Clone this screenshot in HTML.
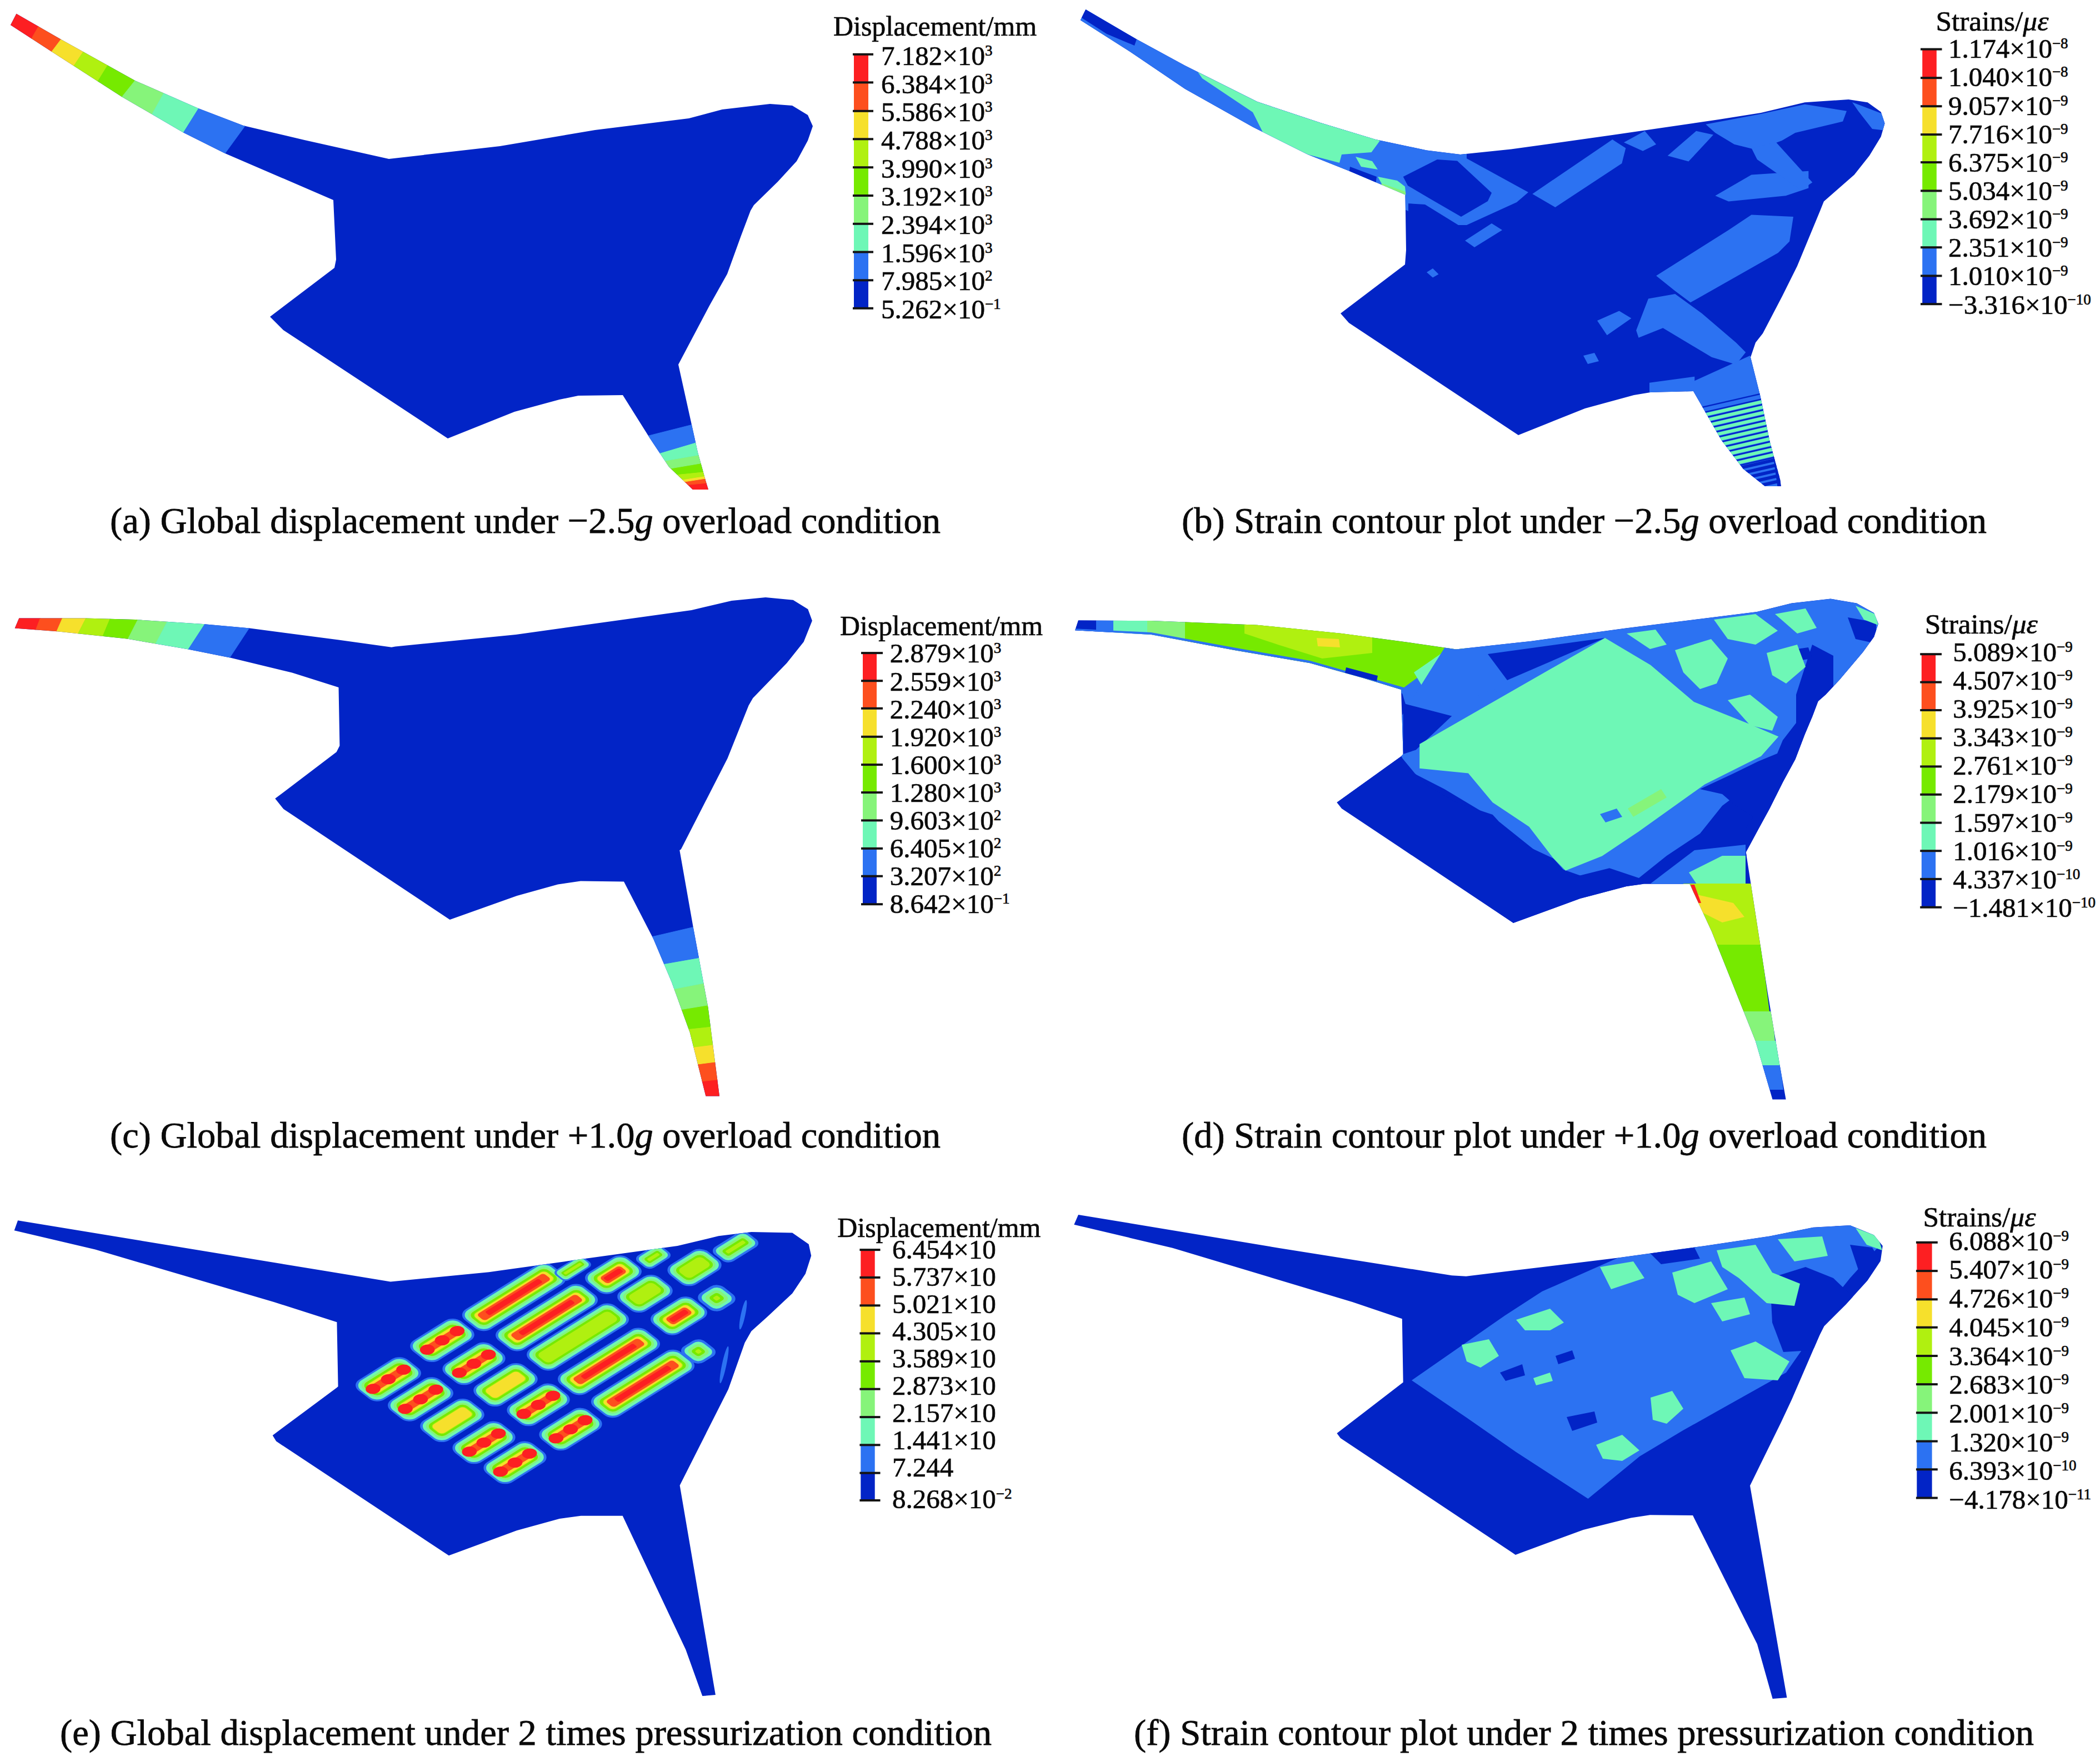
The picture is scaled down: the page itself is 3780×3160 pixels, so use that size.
<!DOCTYPE html>
<html><head><meta charset="utf-8"><style>
html,body{margin:0;padding:0;background:#fff;width:3780px;height:3160px;overflow:hidden}
svg{display:block}
</style></head><body>
<svg width="3780" height="3160" viewBox="0 0 3780 3160">
<defs><clipPath id="clipA"><polygon points="29.5,24.8 110.0,71.0 243.0,145.0 357.0,195.0 438.0,226.0 548.0,252.0 700.0,286.0 900.0,263.0 1071.0,234.0 1240.0,213.0 1300.0,197.0 1386.0,187.0 1426.0,190.0 1454.0,207.0 1463.0,227.0 1454.0,253.0 1434.0,290.0 1400.0,327.0 1357.0,369.0 1351.0,379.0 1334.0,424.0 1309.0,493.0 1277.0,550.0 1221.0,656.0 1256.0,814.0 1271.0,868.0 1275.0,881.0 1247.0,881.0 1204.0,840.0 1170.0,789.0 1121.0,711.0 1041.0,712.0 1007.0,719.0 926.0,741.0 806.0,789.0 510.0,594.0 486.0,570.0 602.0,482.0 605.0,467.0 600.0,360.0 405.0,276.0 329.0,238.0 219.0,174.0 93.0,93.0 19.0,45.0"/></clipPath><clipPath id="clipB"><polygon points="1954.3,17.1 2045.7,70.5 2133.0,118.0 2263.0,183.0 2377.0,221.0 2476.0,251.0 2568.0,270.5 2628.6,278.0 2720.0,268.6 2905.7,242.6 3094.0,215.0 3169.7,203.0 3248.6,184.3 3327.4,179.0 3361.7,184.3 3385.7,201.4 3392.6,222.0 3385.7,246.0 3365.0,280.0 3337.7,314.6 3282.9,362.6 3276.0,379.7 3234.9,479.0 3208.0,533.0 3173.0,600.0 3160.0,616.5 3151.0,643.0 3168.6,713.0 3186.0,796.0 3204.0,862.0 3206.0,875.0 3177.0,875.0 3138.0,844.0 3098.5,792.0 3063.0,730.0 3048.0,704.0 2971.0,706.0 2941.0,711.0 2853.0,735.0 2733.0,783.0 2428.0,581.0 2413.0,564.0 2529.0,476.0 2531.0,450.0 2529.5,350.5 2430.5,308.6 2354.0,278.0 2255.0,228.6 2133.0,160.0 2034.0,93.0 1944.8,36.2"/></clipPath><clipPath id="clipC"><polygon points="34.3,1112.6 152.4,1112.6 243.8,1115.0 365.7,1122.9 449.5,1130.5 609.5,1151.4 704.8,1164.8 711.4,1163.6 928.6,1141.9 1244.8,1098.0 1317.0,1081.0 1378.0,1075.0 1427.6,1079.8 1454.3,1096.2 1461.9,1117.0 1446.7,1155.0 1416.2,1193.3 1355.2,1256.2 1347.6,1269.5 1309.5,1364.8 1225.7,1528.6 1223.3,1530.0 1247.9,1669.3 1274.5,1812.7 1295.0,1972.4 1270.4,1972.4 1241.7,1857.7 1209.0,1767.6 1176.2,1689.8 1123.0,1586.6 1045.1,1585.4 1004.2,1591.5 930.5,1612.0 809.7,1655.0 510.5,1456.0 495.2,1437.1 605.7,1353.3 611.4,1341.9 609.5,1237.0 525.7,1210.5 415.2,1183.8 339.0,1168.6 228.6,1149.5 102.9,1136.2 26.7,1130.5"/></clipPath><clipPath id="clipD"><polygon points="1941.0,1116.4 2072.4,1117.1 2262.9,1124.8 2415.2,1140.0 2529.5,1155.2 2621.0,1168.6 2756.2,1153.7 2928.0,1130.3 3162.3,1101.0 3224.8,1085.4 3295.0,1077.6 3342.0,1085.4 3373.2,1103.0 3381.0,1122.5 3373.2,1146.0 3353.6,1173.2 3310.7,1224.0 3286.2,1250.0 3272.6,1262.0 3262.3,1289.3 3248.6,1321.8 3231.6,1366.2 3209.3,1407.2 3185.4,1455.0 3164.9,1492.6 3142.7,1533.6 3181.7,1785.7 3203.6,1917.1 3214.6,1978.5 3190.5,1978.5 3159.8,1873.3 3124.8,1785.7 3081.0,1676.2 3041.5,1590.8 2958.3,1590.8 2927.6,1595.1 2844.4,1617.0 2724.0,1660.9 2415.0,1455.0 2406.3,1444.0 2522.4,1360.8 2525.7,1357.0 2522.0,1241.0 2453.3,1220.0 2358.0,1193.3 2224.8,1170.5 2072.4,1141.9 1935.2,1134.3"/></clipPath><clipPath id="clipE"><polygon points="32.1,2196.3 702.9,2306.4 880.0,2289.2 1027.6,2268.6 1219.5,2242.0 1293.3,2224.3 1352.4,2216.9 1426.2,2218.4 1455.7,2239.0 1460.2,2259.7 1449.8,2292.2 1426.2,2327.6 1381.9,2369.0 1352.4,2395.5 1340.6,2416.2 1311.0,2500.0 1223.6,2672.9 1287.9,3050.0 1264.3,3052.1 1234.3,2968.6 1120.7,2727.7 1045.7,2727.7 1007.1,2732.9 930.0,2754.3 807.9,2799.3 497.1,2593.6 490.7,2582.9 606.4,2497.1 608.6,2495.0 606.4,2379.3 492.9,2342.9 171.4,2248.6 25.7,2214.3"/></clipPath><clipPath id="clipF"><polygon points="1941.0,2185.9 2301.0,2245.7 2613.3,2295.2 2639.0,2296.7 2912.4,2263.5 3068.6,2242.0 3185.7,2224.4 3263.8,2208.8 3330.2,2204.9 3373.1,2222.5 3388.8,2242.0 3384.9,2269.3 3361.4,2304.5 3322.4,2347.4 3283.3,2386.5 3275.5,2402.1 3224.8,2519.2 3205.7,2560.0 3150.0,2673.6 3216.4,3055.0 3190.7,3057.1 3162.9,2958.6 3047.1,2727.1 2970.0,2726.3 2935.7,2731.4 2850.0,2752.9 2727.9,2797.9 2412.9,2587.9 2406.4,2579.3 2525.7,2487.6 2523.8,2373.3 2434.3,2342.9 2301.0,2302.9 2110.5,2245.7 1933.3,2203.8"/></clipPath></defs>
<polygon points="29.5,24.8 110.0,71.0 243.0,145.0 357.0,195.0 438.0,226.0 548.0,252.0 700.0,286.0 900.0,263.0 1071.0,234.0 1240.0,213.0 1300.0,197.0 1386.0,187.0 1426.0,190.0 1454.0,207.0 1463.0,227.0 1454.0,253.0 1434.0,290.0 1400.0,327.0 1357.0,369.0 1351.0,379.0 1334.0,424.0 1309.0,493.0 1277.0,550.0 1221.0,656.0 1256.0,814.0 1271.0,868.0 1275.0,881.0 1247.0,881.0 1204.0,840.0 1170.0,789.0 1121.0,711.0 1041.0,712.0 1007.0,719.0 926.0,741.0 806.0,789.0 510.0,594.0 486.0,570.0 602.0,482.0 605.0,467.0 600.0,360.0 405.0,276.0 329.0,238.0 219.0,174.0 93.0,93.0 19.0,45.0" fill="#0224c6"/>
<g clip-path="url(#clipA)"><polygon points="18.0,-50.0 76.2,35.4 49.8,81.6 -48.0,60.0" fill="#fd1f22" stroke="#fd1f22" stroke-width="1"/><polygon points="76.2,35.4 118.0,60.0 83.6,105.4 49.8,81.6" fill="#fd4f1e" stroke="#fd4f1e" stroke-width="1"/><polygon points="118.0,60.0 157.4,81.8 125.2,130.2 83.6,105.4" fill="#f6e02c" stroke="#f6e02c" stroke-width="1"/><polygon points="157.4,81.8 202.6,103.4 167.4,160.6 125.2,130.2" fill="#b0f010" stroke="#b0f010" stroke-width="1"/><polygon points="202.6,103.4 257.4,127.0 204.6,193.0 167.4,160.6" fill="#76ea00" stroke="#76ea00" stroke-width="1"/><polygon points="257.4,127.0 306.0,147.4 262.0,226.6 204.6,193.0" fill="#86f47a" stroke="#86f47a" stroke-width="1"/><polygon points="306.0,147.4 373.2,170.2 313.8,264.8 262.0,226.6" fill="#6ef7b6" stroke="#6ef7b6" stroke-width="1"/><polygon points="373.2,170.2 461.0,199.2 384.0,304.8 313.8,264.8" fill="#2c72f2" stroke="#2c72f2" stroke-width="1"/></g>
<g clip-path="url(#clipA)"><polygon points="1210.0,900.0 1225.0,873.8 1291.0,867.2 1320.0,900.0" fill="#fd1f22" stroke="#fd1f22" stroke-width="1"/><polygon points="1225.0,873.8 1218.8,869.0 1289.2,858.0 1291.0,867.2" fill="#fd4f1e" stroke="#fd4f1e" stroke-width="1"/><polygon points="1218.8,869.0 1214.8,865.0 1285.2,854.0 1289.2,858.0" fill="#f6e02c" stroke="#f6e02c" stroke-width="1"/><polygon points="1214.8,865.0 1200.0,855.4 1288.0,846.6 1285.2,854.0" fill="#b0f010" stroke="#b0f010" stroke-width="1"/><polygon points="1200.0,855.4 1184.8,846.8 1288.2,829.2 1288.0,846.6" fill="#76ea00" stroke="#76ea00" stroke-width="1"/><polygon points="1184.8,846.8 1163.2,835.0 1290.8,813.0 1288.2,829.2" fill="#86f47a" stroke="#86f47a" stroke-width="1"/><polygon points="1163.2,835.0 1146.6,827.4 1287.4,785.6 1290.8,813.0" fill="#6ef7b6" stroke="#6ef7b6" stroke-width="1"/><polygon points="1146.6,827.4 1123.0,795.4 1288.0,753.6 1287.4,785.6" fill="#2c72f2" stroke="#2c72f2" stroke-width="1"/></g>
<g style="font-family:'Liberation Serif',serif" fill="#0a0a0a"><text x="1500.0" y="64.0" stroke="#0a0a0a" stroke-width="0.7" style="font-size:50px" textLength="366" lengthAdjust="spacingAndGlyphs">Displacement/mm</text><rect x="1537.0" y="98.0" width="26.0" height="50.6" fill="#fd1f22"/><rect x="1537.0" y="148.6" width="26.0" height="51.4" fill="#fd4f1e"/><rect x="1537.0" y="200.0" width="26.0" height="50.5" fill="#f6e02c"/><rect x="1537.0" y="250.5" width="26.0" height="50.9" fill="#b0f010"/><rect x="1537.0" y="301.4" width="26.0" height="50.8" fill="#76ea00"/><rect x="1537.0" y="352.2" width="26.0" height="50.8" fill="#86f47a"/><rect x="1537.0" y="403.0" width="26.0" height="50.7" fill="#6ef7b6"/><rect x="1537.0" y="453.7" width="26.0" height="50.8" fill="#2c72f2"/><rect x="1537.0" y="504.5" width="26.0" height="50.5" fill="#0224c6"/><rect x="1535.0" y="95.8" width="37.0" height="4" fill="#141414"/><rect x="1535.0" y="146.4" width="37.0" height="4" fill="#141414"/><rect x="1535.0" y="197.8" width="37.0" height="4" fill="#141414"/><rect x="1535.0" y="248.3" width="37.0" height="4" fill="#141414"/><rect x="1535.0" y="299.2" width="37.0" height="4" fill="#141414"/><rect x="1535.0" y="350.0" width="37.0" height="4" fill="#141414"/><rect x="1535.0" y="400.8" width="37.0" height="4" fill="#141414"/><rect x="1535.0" y="451.5" width="37.0" height="4" fill="#141414"/><rect x="1535.0" y="502.3" width="37.0" height="4" fill="#141414"/><rect x="1535.0" y="552.8" width="37.0" height="4" fill="#141414"/><text x="1586.0" y="117.1" stroke="#0a0a0a" stroke-width="0.7" style="font-size:49px">7.182×10<tspan dy="-17" style="font-size:27px">3</tspan></text><text x="1586.0" y="167.7" stroke="#0a0a0a" stroke-width="0.7" style="font-size:49px">6.384×10<tspan dy="-17" style="font-size:27px">3</tspan></text><text x="1586.0" y="218.4" stroke="#0a0a0a" stroke-width="0.7" style="font-size:49px">5.586×10<tspan dy="-17" style="font-size:27px">3</tspan></text><text x="1586.0" y="269.0" stroke="#0a0a0a" stroke-width="0.7" style="font-size:49px">4.788×10<tspan dy="-17" style="font-size:27px">3</tspan></text><text x="1586.0" y="319.7" stroke="#0a0a0a" stroke-width="0.7" style="font-size:49px">3.990×10<tspan dy="-17" style="font-size:27px">3</tspan></text><text x="1586.0" y="370.3" stroke="#0a0a0a" stroke-width="0.7" style="font-size:49px">3.192×10<tspan dy="-17" style="font-size:27px">3</tspan></text><text x="1586.0" y="421.0" stroke="#0a0a0a" stroke-width="0.7" style="font-size:49px">2.394×10<tspan dy="-17" style="font-size:27px">3</tspan></text><text x="1586.0" y="471.6" stroke="#0a0a0a" stroke-width="0.7" style="font-size:49px">1.596×10<tspan dy="-17" style="font-size:27px">3</tspan></text><text x="1586.0" y="522.3" stroke="#0a0a0a" stroke-width="0.7" style="font-size:49px">7.985×10<tspan dy="-17" style="font-size:27px">2</tspan></text><text x="1586.0" y="572.9" stroke="#0a0a0a" stroke-width="0.7" style="font-size:49px">5.262×10<tspan dy="-17" style="font-size:27px">−1</tspan></text></g>
<text x="198.0" y="959.0" style="font-family:'Liberation Serif',serif;font-size:66.5px" fill="#0a0a0a" stroke="#0a0a0a" stroke-width="0.8" textLength="1495" lengthAdjust="spacingAndGlyphs">(a) Global displacement under −2.5<tspan style="font-style:italic">g</tspan> overload condition</text>
<polygon points="1954.3,17.1 2045.7,70.5 2133.0,118.0 2263.0,183.0 2377.0,221.0 2476.0,251.0 2568.0,270.5 2628.6,278.0 2720.0,268.6 2905.7,242.6 3094.0,215.0 3169.7,203.0 3248.6,184.3 3327.4,179.0 3361.7,184.3 3385.7,201.4 3392.6,222.0 3385.7,246.0 3365.0,280.0 3337.7,314.6 3282.9,362.6 3276.0,379.7 3234.9,479.0 3208.0,533.0 3173.0,600.0 3160.0,616.5 3151.0,643.0 3168.6,713.0 3186.0,796.0 3204.0,862.0 3206.0,875.0 3177.0,875.0 3138.0,844.0 3098.5,792.0 3063.0,730.0 3048.0,704.0 2971.0,706.0 2941.0,711.0 2853.0,735.0 2733.0,783.0 2428.0,581.0 2413.0,564.0 2529.0,476.0 2531.0,450.0 2529.5,350.5 2430.5,308.6 2354.0,278.0 2255.0,228.6 2133.0,160.0 2034.0,93.0 1944.8,36.2" fill="#0224c6"/>
<g clip-path="url(#clipB)"><polygon points="1900.0,-20.0 2640.0,250.0 2640.0,290.0 2535.0,335.0 2535.0,380.0 1900.0,80.0" fill="#2c72f2"/><polygon points="1954.0,17.0 2046.0,70.5 2042.0,82.0 1992.0,61.0 1950.0,34.0 1930.0,20.0" fill="#0224c6"/><polygon points="2430.0,300.0 2478.0,318.0 2476.0,332.0 2428.0,314.0" fill="#0224c6"/><polygon points="2156.0,129.5 2263.0,183.0 2377.0,221.0 2484.0,253.0 2468.6,274.0 2415.0,278.0 2411.0,293.0 2354.0,278.0 2274.0,240.0 2255.0,202.0 2164.0,141.0" fill="#6ef7b6"/><polygon points="2480.0,318.0 2515.0,325.0 2532.0,338.0 2532.0,350.0 2490.0,336.0" fill="#6ef7b6"/><polygon points="2440.0,282.0 2470.0,290.0 2480.0,305.0 2450.0,300.0" fill="#6ef7b6"/><polygon points="2487.0,330.0 2530.0,345.0 2530.0,352.0 2485.0,338.0" fill="#86f47a"/><polygon points="2527.0,316.0 2627.0,278.0 2751.0,346.0 2730.0,364.0 2640.0,405.0 2625.0,405.0 2565.0,368.0 2532.0,366.0" fill="#2c72f2"/><polygon points="2525.7,318.0 2587.0,287.0 2623.0,289.6 2685.0,347.0 2678.0,362.0 2630.0,390.0 2573.0,357.0 2534.0,334.0" fill="#0224c6"/><polygon points="2637.0,433.0 2685.0,402.0 2704.0,414.0 2654.0,445.0" fill="#2c72f2"/><polygon points="2758.3,348.9 2902.3,251.1 2926.3,266.6 2919.4,294.0 2799.4,372.9" fill="#2c72f2"/><polygon points="2922.9,256.3 2960.6,235.7 2981.1,259.7 2957.1,271.7" fill="#2c72f2"/><polygon points="3001.7,280.3 3053.1,235.7 3084.0,242.6 3039.4,290.6" fill="#2c72f2"/><polygon points="3070.3,223.7 3169.7,204.9 3248.6,187.7 3324.0,199.7 3317.1,218.6 3231.4,239.1 3207.4,252.9 3162.9,270.0 3121.7,259.7 3087.4,239.1" fill="#2c72f2"/><polygon points="3087.4,352.3 3152.6,314.6 3255.4,307.7 3255.4,338.6 3214.3,352.3 3111.4,362.6" fill="#2c72f2"/><polygon points="2981.1,496.3 3111.4,414.0 3152.6,386.6 3228.0,390.0 3221.1,434.6 3200.6,455.1 3042.9,544.3 3015.4,523.7" fill="#2c72f2"/><polygon points="3152.6,266.6 3197.1,256.3 3262.3,328.3 3241.7,342.0 3162.9,287.1" fill="#2c72f2"/><polygon points="3334.0,184.0 3389.0,205.0 3395.0,235.0 3370.0,232.0 3345.0,200.0" fill="#2c72f2"/><polygon points="2967.0,537.6 3015.2,528.9 3063.4,563.9 3124.8,616.5 3142.3,634.0 3124.8,655.9 3081.0,642.7 2993.3,590.2 2949.5,607.7 2945.1,594.6" fill="#2c72f2"/><polygon points="2875.0,577.0 2914.5,559.5 2936.4,572.7 2892.6,603.3" fill="#2c72f2"/><polygon points="2969.0,688.8 3050.3,677.8 3050.3,704.0 2969.0,706.3" fill="#2c72f2"/><polygon points="2850.0,640.0 2870.0,635.0 2878.0,650.0 2858.0,655.0" fill="#2c72f2"/><polygon points="2568.0,490.0 2579.0,483.0 2589.5,493.6 2579.0,499.5" fill="#2c72f2"/><polygon points="3040.0,690.0 3150.0,640.0 3175.0,700.0 3200.0,880.0 3100.0,880.0 3030.0,720.0" fill="#2c72f2"/></g>
<g clip-path="url(#clipB)"><polygon points="3030.0,739.5 3215.0,697.0 3215.0,699.5 3030.0,742.0" fill="#0224c6"/><polygon points="3030.0,749.5 3215.0,707.0 3215.0,709.5 3030.0,752.0" fill="#0224c6"/><polygon points="3030.0,752.5 3215.0,710.0 3215.0,716.0 3030.0,758.5" fill="#6ef7b6"/><polygon points="3030.0,759.5 3215.0,717.0 3215.0,719.5 3030.0,762.0" fill="#0224c6"/><polygon points="3030.0,762.5 3215.0,720.0 3215.0,726.0 3030.0,768.5" fill="#6ef7b6"/><polygon points="3030.0,769.5 3215.0,727.0 3215.0,729.5 3030.0,772.0" fill="#0224c6"/><polygon points="3030.0,772.5 3215.0,730.0 3215.0,736.0 3030.0,778.5" fill="#6ef7b6"/><polygon points="3030.0,779.5 3215.0,737.0 3215.0,739.5 3030.0,782.0" fill="#0224c6"/><polygon points="3030.0,782.5 3215.0,740.0 3215.0,746.0 3030.0,788.5" fill="#6ef7b6"/><polygon points="3030.0,789.5 3215.0,747.0 3215.0,749.5 3030.0,792.0" fill="#0224c6"/><polygon points="3030.0,792.5 3215.0,750.0 3215.0,756.0 3030.0,798.5" fill="#6ef7b6"/><polygon points="3030.0,799.5 3215.0,757.0 3215.0,759.5 3030.0,802.0" fill="#0224c6"/><polygon points="3030.0,802.5 3215.0,760.0 3215.0,766.0 3030.0,808.5" fill="#6ef7b6"/><polygon points="3030.0,809.5 3215.0,767.0 3215.0,769.5 3030.0,812.0" fill="#0224c6"/><polygon points="3030.0,812.5 3215.0,770.0 3215.0,776.0 3030.0,818.5" fill="#6ef7b6"/><polygon points="3030.0,819.5 3215.0,777.0 3215.0,779.5 3030.0,822.0" fill="#0224c6"/><polygon points="3030.0,822.5 3215.0,780.0 3215.0,786.0 3030.0,828.5" fill="#6ef7b6"/><polygon points="3030.0,829.5 3215.0,787.0 3215.0,789.5 3030.0,832.0" fill="#0224c6"/><polygon points="3030.0,832.5 3215.0,790.0 3215.0,796.0 3030.0,838.5" fill="#6ef7b6"/><polygon points="3030.0,839.5 3215.0,797.0 3215.0,799.5 3030.0,842.0" fill="#0224c6"/><polygon points="3030.0,842.5 3215.0,800.0 3215.0,806.0 3030.0,848.5" fill="#6ef7b6"/><polygon points="3030.0,849.5 3215.0,807.0 3215.0,809.5 3030.0,852.0" fill="#0224c6"/><polygon points="3030.0,852.5 3215.0,810.0 3215.0,816.0 3030.0,858.5" fill="#6ef7b6"/><polygon points="3030.0,859.5 3215.0,817.0 3215.0,819.5 3030.0,862.0" fill="#0224c6"/><polygon points="3030.0,862.5 3215.0,820.0 3215.0,826.0 3030.0,868.5" fill="#0224c6"/><polygon points="3030.0,872.5 3215.0,830.0 3215.0,836.0 3030.0,878.5" fill="#0224c6"/><polygon points="3030.0,882.5 3215.0,840.0 3215.0,846.0 3030.0,888.5" fill="#0224c6"/><polygon points="3030.0,892.5 3215.0,850.0 3215.0,856.0 3030.0,898.5" fill="#0224c6"/><polygon points="3030.0,902.5 3215.0,860.0 3215.0,866.0 3030.0,908.5" fill="#0224c6"/></g>
<g style="font-family:'Liberation Serif',serif" fill="#0a0a0a"><text x="3484.4" y="54.7" stroke="#0a0a0a" stroke-width="0.7" style="font-size:50px" textLength="203" lengthAdjust="spacingAndGlyphs">Strains/<tspan style="font-style:italic">με</tspan></text><rect x="3460.2" y="88.8" width="25.6" height="51.6" fill="#fd1f22"/><rect x="3460.2" y="140.4" width="25.6" height="51.0" fill="#fd4f1e"/><rect x="3460.2" y="191.4" width="25.6" height="50.9" fill="#f6e02c"/><rect x="3460.2" y="242.3" width="25.6" height="50.0" fill="#b0f010"/><rect x="3460.2" y="292.3" width="25.6" height="51.3" fill="#76ea00"/><rect x="3460.2" y="343.6" width="25.6" height="51.2" fill="#86f47a"/><rect x="3460.2" y="394.8" width="25.6" height="50.6" fill="#6ef7b6"/><rect x="3460.2" y="445.4" width="25.6" height="51.2" fill="#2c72f2"/><rect x="3460.2" y="496.6" width="25.6" height="50.8" fill="#0224c6"/><rect x="3457.0" y="86.6" width="38.5" height="4" fill="#141414"/><rect x="3457.0" y="138.2" width="38.5" height="4" fill="#141414"/><rect x="3457.0" y="189.2" width="38.5" height="4" fill="#141414"/><rect x="3457.0" y="240.1" width="38.5" height="4" fill="#141414"/><rect x="3457.0" y="290.1" width="38.5" height="4" fill="#141414"/><rect x="3457.0" y="341.4" width="38.5" height="4" fill="#141414"/><rect x="3457.0" y="392.6" width="38.5" height="4" fill="#141414"/><rect x="3457.0" y="443.2" width="38.5" height="4" fill="#141414"/><rect x="3457.0" y="494.4" width="38.5" height="4" fill="#141414"/><rect x="3457.0" y="545.2" width="38.5" height="4" fill="#141414"/><text x="3507.0" y="104.2" stroke="#0a0a0a" stroke-width="0.7" style="font-size:49px">1.174×10<tspan dy="-17" style="font-size:27px">−8</tspan></text><text x="3507.0" y="155.3" stroke="#0a0a0a" stroke-width="0.7" style="font-size:49px">1.040×10<tspan dy="-17" style="font-size:27px">−8</tspan></text><text x="3507.0" y="206.5" stroke="#0a0a0a" stroke-width="0.7" style="font-size:49px">9.057×10<tspan dy="-17" style="font-size:27px">−9</tspan></text><text x="3507.0" y="257.6" stroke="#0a0a0a" stroke-width="0.7" style="font-size:49px">7.716×10<tspan dy="-17" style="font-size:27px">−9</tspan></text><text x="3507.0" y="308.8" stroke="#0a0a0a" stroke-width="0.7" style="font-size:49px">6.375×10<tspan dy="-17" style="font-size:27px">−9</tspan></text><text x="3507.0" y="359.9" stroke="#0a0a0a" stroke-width="0.7" style="font-size:49px">5.034×10<tspan dy="-17" style="font-size:27px">−9</tspan></text><text x="3507.0" y="411.1" stroke="#0a0a0a" stroke-width="0.7" style="font-size:49px">3.692×10<tspan dy="-17" style="font-size:27px">−9</tspan></text><text x="3507.0" y="462.2" stroke="#0a0a0a" stroke-width="0.7" style="font-size:49px">2.351×10<tspan dy="-17" style="font-size:27px">−9</tspan></text><text x="3507.0" y="513.4" stroke="#0a0a0a" stroke-width="0.7" style="font-size:49px">1.010×10<tspan dy="-17" style="font-size:27px">−9</tspan></text><text x="3507.0" y="564.5" stroke="#0a0a0a" stroke-width="0.7" style="font-size:49px">−3.316×10<tspan dy="-17" style="font-size:27px">−10</tspan></text></g>
<text x="2127.0" y="959.0" style="font-family:'Liberation Serif',serif;font-size:66.5px" fill="#0a0a0a" stroke="#0a0a0a" stroke-width="0.8" textLength="1449" lengthAdjust="spacingAndGlyphs">(b) Strain contour plot under −2.5<tspan style="font-style:italic">g</tspan> overload condition</text>
<polygon points="34.3,1112.6 152.4,1112.6 243.8,1115.0 365.7,1122.9 449.5,1130.5 609.5,1151.4 704.8,1164.8 711.4,1163.6 928.6,1141.9 1244.8,1098.0 1317.0,1081.0 1378.0,1075.0 1427.6,1079.8 1454.3,1096.2 1461.9,1117.0 1446.7,1155.0 1416.2,1193.3 1355.2,1256.2 1347.6,1269.5 1309.5,1364.8 1225.7,1528.6 1223.3,1530.0 1247.9,1669.3 1274.5,1812.7 1295.0,1972.4 1270.4,1972.4 1241.7,1857.7 1209.0,1767.6 1176.2,1689.8 1123.0,1586.6 1045.1,1585.4 1004.2,1591.5 930.5,1612.0 809.7,1655.0 510.5,1456.0 495.2,1437.1 605.7,1353.3 611.4,1341.9 609.5,1237.0 525.7,1210.5 415.2,1183.8 339.0,1168.6 228.6,1149.5 102.9,1136.2 26.7,1130.5" fill="#0224c6"/>
<g clip-path="url(#clipC)"><polygon points="6.0,1032.0 77.4,1099.6 59.0,1147.3 -16.0,1208.0" fill="#fd1f22" stroke="#fd1f22" stroke-width="1"/><polygon points="77.4,1099.6 118.6,1098.4 95.8,1150.4 59.0,1147.3" fill="#fd4f1e" stroke="#fd4f1e" stroke-width="1"/><polygon points="118.6,1098.4 161.9,1098.5 134.1,1152.8 95.8,1150.4" fill="#f6e02c" stroke="#f6e02c" stroke-width="1"/><polygon points="161.9,1098.5 205.5,1096.1 178.0,1161.7 134.1,1152.8" fill="#b0f010" stroke="#b0f010" stroke-width="1"/><polygon points="205.5,1096.1 257.9,1095.9 220.2,1169.6 178.0,1161.7" fill="#76ea00" stroke="#76ea00" stroke-width="1"/><polygon points="257.9,1095.9 312.4,1097.4 270.6,1176.6 220.2,1169.6" fill="#86f47a" stroke="#86f47a" stroke-width="1"/><polygon points="312.4,1097.4 384.8,1098.5 321.8,1194.9 270.6,1176.6" fill="#6ef7b6" stroke="#6ef7b6" stroke-width="1"/><polygon points="384.8,1098.5 468.2,1100.3 392.7,1215.1 321.8,1194.9" fill="#2c72f2" stroke="#2c72f2" stroke-width="1"/></g>
<g clip-path="url(#clipC)"><polygon points="1244.0,1990.0 1248.2,1947.4 1306.9,1941.2 1321.0,1990.0" fill="#fd1f22" stroke="#fd1f22" stroke-width="1"/><polygon points="1248.2,1947.4 1237.6,1917.4 1305.1,1908.6 1306.9,1941.2" fill="#fd4f1e" stroke="#fd4f1e" stroke-width="1"/><polygon points="1237.6,1917.4 1228.1,1886.8 1300.3,1877.7 1305.1,1908.6" fill="#f6e02c" stroke="#f6e02c" stroke-width="1"/><polygon points="1228.1,1886.8 1214.3,1854.1 1299.8,1845.0 1300.3,1877.7" fill="#b0f010" stroke="#b0f010" stroke-width="1"/><polygon points="1214.3,1854.1 1198.2,1821.2 1297.5,1805.0 1299.8,1845.0" fill="#76ea00" stroke="#76ea00" stroke-width="1"/><polygon points="1198.2,1821.2 1179.1,1786.2 1296.1,1763.5 1297.5,1805.0" fill="#86f47a" stroke="#86f47a" stroke-width="1"/><polygon points="1179.1,1786.2 1154.6,1741.6 1294.0,1717.1 1296.1,1763.5" fill="#6ef7b6" stroke="#6ef7b6" stroke-width="1"/><polygon points="1154.6,1741.6 1129.8,1696.0 1292.2,1658.2 1294.0,1717.1" fill="#2c72f2" stroke="#2c72f2" stroke-width="1"/></g>
<g style="font-family:'Liberation Serif',serif" fill="#0a0a0a"><text x="1512.0" y="1143.1" stroke="#0a0a0a" stroke-width="0.7" style="font-size:50px" textLength="365" lengthAdjust="spacingAndGlyphs">Displacement/mm</text><rect x="1553.0" y="1175.3" width="25.0" height="50.1" fill="#fd1f22"/><rect x="1553.0" y="1225.4" width="25.0" height="49.6" fill="#fd4f1e"/><rect x="1553.0" y="1275.0" width="25.0" height="51.0" fill="#f6e02c"/><rect x="1553.0" y="1326.0" width="25.0" height="50.3" fill="#b0f010"/><rect x="1553.0" y="1376.3" width="25.0" height="50.0" fill="#76ea00"/><rect x="1553.0" y="1426.3" width="25.0" height="50.3" fill="#86f47a"/><rect x="1553.0" y="1476.6" width="25.0" height="50.5" fill="#6ef7b6"/><rect x="1553.0" y="1527.1" width="25.0" height="49.8" fill="#2c72f2"/><rect x="1553.0" y="1576.9" width="25.0" height="50.5" fill="#0224c6"/><rect x="1550.0" y="1173.1" width="39.0" height="4" fill="#141414"/><rect x="1550.0" y="1223.2" width="39.0" height="4" fill="#141414"/><rect x="1550.0" y="1272.8" width="39.0" height="4" fill="#141414"/><rect x="1550.0" y="1323.8" width="39.0" height="4" fill="#141414"/><rect x="1550.0" y="1374.1" width="39.0" height="4" fill="#141414"/><rect x="1550.0" y="1424.1" width="39.0" height="4" fill="#141414"/><rect x="1550.0" y="1474.4" width="39.0" height="4" fill="#141414"/><rect x="1550.0" y="1524.9" width="39.0" height="4" fill="#141414"/><rect x="1550.0" y="1574.7" width="39.0" height="4" fill="#141414"/><rect x="1550.0" y="1625.2" width="39.0" height="4" fill="#141414"/><text x="1601.8" y="1192.4" stroke="#0a0a0a" stroke-width="0.7" style="font-size:49px">2.879×10<tspan dy="-17" style="font-size:27px">3</tspan></text><text x="1601.8" y="1242.5" stroke="#0a0a0a" stroke-width="0.7" style="font-size:49px">2.559×10<tspan dy="-17" style="font-size:27px">3</tspan></text><text x="1601.8" y="1292.6" stroke="#0a0a0a" stroke-width="0.7" style="font-size:49px">2.240×10<tspan dy="-17" style="font-size:27px">3</tspan></text><text x="1601.8" y="1342.7" stroke="#0a0a0a" stroke-width="0.7" style="font-size:49px">1.920×10<tspan dy="-17" style="font-size:27px">3</tspan></text><text x="1601.8" y="1392.8" stroke="#0a0a0a" stroke-width="0.7" style="font-size:49px">1.600×10<tspan dy="-17" style="font-size:27px">3</tspan></text><text x="1601.8" y="1442.8" stroke="#0a0a0a" stroke-width="0.7" style="font-size:49px">1.280×10<tspan dy="-17" style="font-size:27px">3</tspan></text><text x="1601.8" y="1492.9" stroke="#0a0a0a" stroke-width="0.7" style="font-size:49px">9.603×10<tspan dy="-17" style="font-size:27px">2</tspan></text><text x="1601.8" y="1543.0" stroke="#0a0a0a" stroke-width="0.7" style="font-size:49px">6.405×10<tspan dy="-17" style="font-size:27px">2</tspan></text><text x="1601.8" y="1593.1" stroke="#0a0a0a" stroke-width="0.7" style="font-size:49px">3.207×10<tspan dy="-17" style="font-size:27px">2</tspan></text><text x="1601.8" y="1643.2" stroke="#0a0a0a" stroke-width="0.7" style="font-size:49px">8.642×10<tspan dy="-17" style="font-size:27px">−1</tspan></text></g>
<text x="198.0" y="2064.8" style="font-family:'Liberation Serif',serif;font-size:66.5px" fill="#0a0a0a" stroke="#0a0a0a" stroke-width="0.8" textLength="1495" lengthAdjust="spacingAndGlyphs">(c) Global displacement under +1.0<tspan style="font-style:italic">g</tspan> overload condition</text>
<polygon points="1941.0,1116.4 2072.4,1117.1 2262.9,1124.8 2415.2,1140.0 2529.5,1155.2 2621.0,1168.6 2756.2,1153.7 2928.0,1130.3 3162.3,1101.0 3224.8,1085.4 3295.0,1077.6 3342.0,1085.4 3373.2,1103.0 3381.0,1122.5 3373.2,1146.0 3353.6,1173.2 3310.7,1224.0 3286.2,1250.0 3272.6,1262.0 3262.3,1289.3 3248.6,1321.8 3231.6,1366.2 3209.3,1407.2 3185.4,1455.0 3164.9,1492.6 3142.7,1533.6 3181.7,1785.7 3203.6,1917.1 3214.6,1978.5 3190.5,1978.5 3159.8,1873.3 3124.8,1785.7 3081.0,1676.2 3041.5,1590.8 2958.3,1590.8 2927.6,1595.1 2844.4,1617.0 2724.0,1660.9 2415.0,1455.0 2406.3,1444.0 2522.4,1360.8 2525.7,1357.0 2522.0,1241.0 2453.3,1220.0 2358.0,1193.3 2224.8,1170.5 2072.4,1141.9 1935.2,1134.3" fill="#0224c6"/>
<g clip-path="url(#clipD)"><polygon points="2133.0,1090.0 2640.0,1150.0 2640.0,1260.0 2133.0,1200.0" fill="#76ea00"/><polygon points="1920.0,1090.0 1973.0,1090.0 1973.0,1160.0 1920.0,1160.0" fill="#0224c6"/><polygon points="1973.0,1090.0 2004.0,1090.0 2004.0,1160.0 1973.0,1160.0" fill="#2c72f2"/><polygon points="2004.0,1090.0 2065.0,1090.0 2065.0,1160.0 2004.0,1160.0" fill="#6ef7b6"/><polygon points="2065.0,1090.0 2133.0,1090.0 2133.0,1165.0 2065.0,1165.0" fill="#86f47a"/><polygon points="2240.0,1110.0 2470.0,1130.0 2470.0,1175.0 2380.0,1185.0 2300.0,1160.0 2240.0,1140.0" fill="#b0f010"/><polygon points="2370.0,1148.0 2410.0,1150.0 2412.0,1165.0 2372.0,1163.0" fill="#f6e02c"/><polygon points="1930.0,1131.0 2072.0,1138.0 2225.0,1166.0 2358.0,1189.0 2453.0,1216.0 2530.0,1238.0 2530.0,1250.0 2453.0,1226.0 2358.0,1198.0 2225.0,1175.0 2072.0,1146.0 1930.0,1140.0" fill="#2c72f2"/><polygon points="2423.0,1201.0 2480.0,1216.0 2478.0,1226.0 2421.0,1211.0" fill="#0224c6"/><polygon points="2522.0,1241.0 2621.0,1168.6 2680.0,1165.0 2760.0,1200.0 2740.0,1260.0 2640.0,1290.0 2540.0,1300.0" fill="#2c72f2"/><polygon points="2545.0,1210.0 2600.0,1172.0 2644.0,1175.0 2630.0,1210.0 2590.0,1231.0 2560.0,1235.0" fill="#6ef7b6"/><polygon points="2600.0,1166.0 2756.0,1153.7 2928.0,1130.3 3162.3,1101.0 3224.8,1085.4 3295.0,1077.6 3342.0,1085.4 3373.2,1103.0 3381.0,1122.5 3373.2,1146.0 3353.6,1173.2 3310.7,1224.0 3272.0,1262.0 3240.0,1300.0 3220.0,1340.0 3190.0,1380.0 3140.0,1420.0 3100.0,1450.0 3060.0,1500.0 3000.0,1540.0 2950.0,1580.0 2900.0,1595.0 2800.0,1560.0 2700.0,1480.0 2600.0,1420.0 2522.0,1380.0 2522.0,1290.0" fill="#2c72f2"/><polygon points="2678.0,1177.0 2889.0,1148.0 2713.0,1224.0" fill="#0224c6"/><polygon points="2525.7,1265.7 2613.3,1288.6 2548.6,1349.5 2525.7,1357.0" fill="#0224c6"/><polygon points="2522.4,1360.8 2406.3,1444.0 2724.0,1660.9 2844.4,1617.0 2958.3,1590.8 2962.7,1584.2 2897.0,1562.3 2826.9,1579.8 2796.2,1544.8 2730.5,1514.1 2686.7,1465.9 2621.0,1444.0 2568.4,1413.3 2546.5,1391.4 2524.6,1365.1" fill="#0224c6"/><polygon points="3233.0,1250.0 3233.0,1301.0 3209.0,1332.0 3199.0,1356.0 3165.0,1370.0 3120.0,1392.0 3060.0,1420.0 3100.0,1429.0 3122.0,1448.0 3156.0,1470.0 3141.0,1493.0 3139.0,1540.0 3300.0,1540.0 3300.0,1180.0 3262.0,1160.0" fill="#0224c6"/><polygon points="3326.0,1111.0 3377.0,1120.0 3377.0,1158.0 3340.0,1150.0" fill="#0224c6"/><polygon points="3220.0,1170.0 3255.0,1165.0 3262.0,1185.0 3228.0,1190.0" fill="#0224c6"/><polygon points="2555.2,1338.9 2889.0,1147.9 2971.0,1196.7 3049.0,1263.0 3146.7,1302.0 3201.3,1325.5 3170.0,1360.7 3068.6,1411.4 2949.5,1496.6 2883.8,1540.4 2818.0,1566.7 2796.2,1544.8 2752.4,1487.8 2686.7,1444.0 2642.9,1391.4 2555.2,1382.7" fill="#6ef7b6"/><polygon points="2660.0,1250.0 2690.0,1240.0 2700.0,1255.0 2670.0,1265.0" fill="#2c72f2"/><polygon points="2880.0,1465.0 2910.0,1455.0 2920.0,1470.0 2890.0,1480.0" fill="#2c72f2"/><polygon points="2930.0,1455.0 2990.0,1420.0 3000.0,1435.0 2940.0,1470.0" fill="#86f47a"/><polygon points="2928.0,1140.0 2980.0,1133.0 3000.0,1160.0 2970.0,1168.0" fill="#6ef7b6"/><polygon points="3015.0,1170.0 3080.0,1150.0 3110.0,1185.0 3090.0,1230.0 3060.0,1240.0 3030.0,1210.0" fill="#6ef7b6"/><polygon points="3085.0,1115.0 3160.0,1105.0 3200.0,1135.0 3160.0,1160.0 3110.0,1150.0" fill="#6ef7b6"/><polygon points="3180.0,1175.0 3235.0,1160.0 3250.0,1200.0 3215.0,1230.0 3190.0,1215.0" fill="#6ef7b6"/><polygon points="3195.0,1105.0 3250.0,1095.0 3270.0,1130.0 3235.0,1140.0" fill="#6ef7b6"/><polygon points="3110.0,1260.0 3150.0,1250.0 3200.0,1290.0 3190.0,1315.0 3150.0,1305.0" fill="#6ef7b6"/><polygon points="3340.0,1090.0 3375.0,1105.0 3381.0,1125.0 3355.0,1115.0" fill="#6ef7b6"/><polygon points="2971.0,1590.0 3050.0,1530.0 3142.0,1520.0 3142.0,1600.0 3040.0,1600.0" fill="#2c72f2"/><polygon points="3040.0,1570.0 3100.0,1540.0 3142.0,1540.0 3142.0,1590.0 3060.0,1600.0" fill="#6ef7b6"/><polygon points="3030.0,1590.0 3160.0,1590.0 3170.0,1700.0 3060.0,1700.0" fill="#b0f010"/><polygon points="3055.0,1610.0 3120.0,1625.0 3140.0,1650.0 3100.0,1660.0 3060.0,1640.0" fill="#f6e02c"/><polygon points="3060.0,1700.0 3170.0,1700.0 3185.0,1820.0 3100.0,1820.0" fill="#76ea00"/><polygon points="3100.0,1820.0 3190.0,1820.0 3195.0,1873.0 3120.0,1873.0" fill="#86f47a"/><polygon points="3120.0,1873.0 3200.0,1873.0 3205.0,1917.0 3140.0,1917.0" fill="#6ef7b6"/><polygon points="3140.0,1917.0 3205.0,1917.0 3210.0,1961.0 3150.0,1961.0" fill="#2c72f2"/><polygon points="3043.0,1592.0 3050.0,1592.0 3062.0,1625.0 3055.0,1625.0" fill="#fd1f22"/></g>
<g style="font-family:'Liberation Serif',serif" fill="#0a0a0a"><text x="3464.8" y="1139.8" stroke="#0a0a0a" stroke-width="0.7" style="font-size:50px" textLength="203" lengthAdjust="spacingAndGlyphs">Strains/<tspan style="font-style:italic">με</tspan></text><rect x="3458.8" y="1177.4" width="25.3" height="50.4" fill="#fd1f22"/><rect x="3458.8" y="1227.8" width="25.3" height="50.4" fill="#fd4f1e"/><rect x="3458.8" y="1278.2" width="25.3" height="50.7" fill="#f6e02c"/><rect x="3458.8" y="1328.9" width="25.3" height="50.7" fill="#b0f010"/><rect x="3458.8" y="1379.6" width="25.3" height="50.4" fill="#76ea00"/><rect x="3458.8" y="1430.0" width="25.3" height="50.8" fill="#86f47a"/><rect x="3458.8" y="1480.8" width="25.3" height="50.6" fill="#6ef7b6"/><rect x="3458.8" y="1531.4" width="25.3" height="50.7" fill="#2c72f2"/><rect x="3458.8" y="1582.1" width="25.3" height="50.8" fill="#0224c6"/><rect x="3456.2" y="1175.2" width="38.8" height="4" fill="#141414"/><rect x="3456.2" y="1225.6" width="38.8" height="4" fill="#141414"/><rect x="3456.2" y="1276.0" width="38.8" height="4" fill="#141414"/><rect x="3456.2" y="1326.7" width="38.8" height="4" fill="#141414"/><rect x="3456.2" y="1377.4" width="38.8" height="4" fill="#141414"/><rect x="3456.2" y="1427.8" width="38.8" height="4" fill="#141414"/><rect x="3456.2" y="1478.6" width="38.8" height="4" fill="#141414"/><rect x="3456.2" y="1529.2" width="38.8" height="4" fill="#141414"/><rect x="3456.2" y="1579.9" width="38.8" height="4" fill="#141414"/><rect x="3456.2" y="1630.7" width="38.8" height="4" fill="#141414"/><text x="3515.2" y="1190.2" stroke="#0a0a0a" stroke-width="0.7" style="font-size:49px">5.089×10<tspan dy="-17" style="font-size:27px">−9</tspan></text><text x="3515.2" y="1241.2" stroke="#0a0a0a" stroke-width="0.7" style="font-size:49px">4.507×10<tspan dy="-17" style="font-size:27px">−9</tspan></text><text x="3515.2" y="1292.3" stroke="#0a0a0a" stroke-width="0.7" style="font-size:49px">3.925×10<tspan dy="-17" style="font-size:27px">−9</tspan></text><text x="3515.2" y="1343.3" stroke="#0a0a0a" stroke-width="0.7" style="font-size:49px">3.343×10<tspan dy="-17" style="font-size:27px">−9</tspan></text><text x="3515.2" y="1394.4" stroke="#0a0a0a" stroke-width="0.7" style="font-size:49px">2.761×10<tspan dy="-17" style="font-size:27px">−9</tspan></text><text x="3515.2" y="1445.4" stroke="#0a0a0a" stroke-width="0.7" style="font-size:49px">2.179×10<tspan dy="-17" style="font-size:27px">−9</tspan></text><text x="3515.2" y="1496.5" stroke="#0a0a0a" stroke-width="0.7" style="font-size:49px">1.597×10<tspan dy="-17" style="font-size:27px">−9</tspan></text><text x="3515.2" y="1547.5" stroke="#0a0a0a" stroke-width="0.7" style="font-size:49px">1.016×10<tspan dy="-17" style="font-size:27px">−9</tspan></text><text x="3515.2" y="1598.6" stroke="#0a0a0a" stroke-width="0.7" style="font-size:49px">4.337×10<tspan dy="-17" style="font-size:27px">−10</tspan></text><text x="3515.2" y="1649.6" stroke="#0a0a0a" stroke-width="0.7" style="font-size:49px">−1.481×10<tspan dy="-17" style="font-size:27px">−10</tspan></text></g>
<text x="2127.0" y="2064.8" style="font-family:'Liberation Serif',serif;font-size:66.5px" fill="#0a0a0a" stroke="#0a0a0a" stroke-width="0.8" textLength="1449" lengthAdjust="spacingAndGlyphs">(d) Strain contour plot under +1.0<tspan style="font-style:italic">g</tspan> overload condition</text>
<polygon points="32.1,2196.3 702.9,2306.4 880.0,2289.2 1027.6,2268.6 1219.5,2242.0 1293.3,2224.3 1352.4,2216.9 1426.2,2218.4 1455.7,2239.0 1460.2,2259.7 1449.8,2292.2 1426.2,2327.6 1381.9,2369.0 1352.4,2395.5 1340.6,2416.2 1311.0,2500.0 1223.6,2672.9 1287.9,3050.0 1264.3,3052.1 1234.3,2968.6 1120.7,2727.7 1045.7,2727.7 1007.1,2732.9 930.0,2754.3 807.9,2799.3 497.1,2593.6 490.7,2582.9 606.4,2497.1 608.6,2495.0 606.4,2379.3 492.9,2342.9 171.4,2248.6 25.7,2214.3" fill="#0224c6"/>
<g clip-path="url(#clipE)"><g transform="matrix(0.8480,-0.5299,0.7880,0.6157,699.0,2482.0)"><rect x="-52.3" y="-29.0" width="104.7" height="58.0" rx="17.4" fill="#2c72f2"/><rect x="-48.9" y="-25.5" width="97.7" height="51.0" rx="15.3" fill="#6ef7b6"/><rect x="-44.5" y="-21.2" width="89.0" height="42.3" rx="12.7" fill="#86f47a"/><rect x="-40.7" y="-17.4" width="81.5" height="34.8" rx="10.4" fill="#76ea00"/><rect x="-36.7" y="-13.3" width="73.4" height="26.7" rx="8.0" fill="#b0f010"/><rect x="-35.5" y="-12.2" width="71.0" height="24.4" rx="7.3" fill="#f6e02c"/><rect x="-28.9" y="-7.5" width="57.8" height="15.1" rx="4.5" fill="#fd4f1e"/><ellipse cx="-32.4" cy="0" rx="12" ry="11" fill="#fd1f22"/><ellipse cx="0.0" cy="0" rx="12" ry="11" fill="#fd1f22"/><ellipse cx="32.4" cy="0" rx="12" ry="11" fill="#fd1f22"/></g><g transform="matrix(0.8480,-0.5299,0.7880,0.6157,796.0,2412.0)"><rect x="-51.0" y="-29.0" width="102.0" height="58.0" rx="17.4" fill="#2c72f2"/><rect x="-47.5" y="-25.5" width="95.0" height="51.0" rx="15.3" fill="#6ef7b6"/><rect x="-43.2" y="-21.2" width="86.3" height="42.3" rx="12.7" fill="#86f47a"/><rect x="-39.4" y="-17.4" width="78.8" height="34.8" rx="10.4" fill="#76ea00"/><rect x="-35.3" y="-13.3" width="70.7" height="26.7" rx="8.0" fill="#b0f010"/><rect x="-34.2" y="-12.2" width="68.3" height="24.4" rx="7.3" fill="#f6e02c"/><rect x="-27.5" y="-7.5" width="55.1" height="15.1" rx="4.5" fill="#fd4f1e"/><ellipse cx="-31.6" cy="0" rx="12" ry="11" fill="#fd1f22"/><ellipse cx="0.0" cy="0" rx="12" ry="11" fill="#fd1f22"/><ellipse cx="31.6" cy="0" rx="12" ry="11" fill="#fd1f22"/></g><g transform="matrix(0.8480,-0.5299,0.7880,0.6157,925.0,2334.0)"><rect x="-92.7" y="-29.0" width="185.4" height="58.0" rx="17.4" fill="#2c72f2"/><rect x="-89.2" y="-25.5" width="178.4" height="51.0" rx="15.3" fill="#6ef7b6"/><rect x="-84.8" y="-21.2" width="169.7" height="42.3" rx="12.7" fill="#86f47a"/><rect x="-81.1" y="-17.4" width="162.2" height="34.8" rx="10.4" fill="#76ea00"/><rect x="-77.0" y="-13.3" width="154.0" height="26.7" rx="8.0" fill="#b0f010"/><rect x="-75.9" y="-12.2" width="151.7" height="24.4" rx="7.3" fill="#f6e02c"/><rect x="-71.0" y="-9.3" width="141.9" height="18.6" rx="5.6" fill="#fd4f1e"/><rect x="-56.8" y="-5.2" width="113.5" height="10.4" rx="3.1" fill="#fd1f22"/></g><g transform="matrix(0.8480,-0.5299,0.7880,0.6157,1104.0,2294.0)"><rect x="-42.9" y="-29.0" width="85.8" height="58.0" rx="17.4" fill="#2c72f2"/><rect x="-39.4" y="-25.5" width="78.9" height="51.0" rx="15.3" fill="#6ef7b6"/><rect x="-35.1" y="-21.2" width="70.2" height="42.3" rx="12.7" fill="#86f47a"/><rect x="-31.3" y="-17.4" width="62.6" height="34.8" rx="10.4" fill="#76ea00"/><rect x="-27.3" y="-13.3" width="54.5" height="26.7" rx="8.0" fill="#b0f010"/><rect x="-26.1" y="-12.2" width="52.2" height="24.4" rx="7.3" fill="#f6e02c"/><rect x="-21.2" y="-9.3" width="42.4" height="18.6" rx="5.6" fill="#fd4f1e"/><rect x="-17.0" y="-5.2" width="33.9" height="10.4" rx="3.1" fill="#fd1f22"/></g><g transform="matrix(0.8480,-0.5299,0.7880,0.6157,1250.0,2281.0)"><rect x="-40.2" y="-29.0" width="80.5" height="58.0" rx="17.4" fill="#2c72f2"/><rect x="-36.8" y="-25.5" width="73.5" height="51.0" rx="15.3" fill="#6ef7b6"/><rect x="-32.4" y="-21.2" width="64.8" height="42.3" rx="12.7" fill="#86f47a"/><rect x="-28.6" y="-17.4" width="57.3" height="34.8" rx="10.4" fill="#76ea00"/><rect x="-24.6" y="-13.3" width="49.1" height="26.7" rx="8.0" fill="#b0f010"/></g><g transform="matrix(0.8480,-0.5299,0.7880,0.6157,757.0,2518.0)"><rect x="-52.3" y="-29.0" width="104.7" height="58.0" rx="17.4" fill="#2c72f2"/><rect x="-48.9" y="-25.5" width="97.7" height="51.0" rx="15.3" fill="#6ef7b6"/><rect x="-44.5" y="-21.2" width="89.0" height="42.3" rx="12.7" fill="#86f47a"/><rect x="-40.7" y="-17.4" width="81.5" height="34.8" rx="10.4" fill="#76ea00"/><rect x="-36.7" y="-13.3" width="73.4" height="26.7" rx="8.0" fill="#b0f010"/><rect x="-35.5" y="-12.2" width="71.0" height="24.4" rx="7.3" fill="#f6e02c"/><rect x="-28.9" y="-7.5" width="57.8" height="15.1" rx="4.5" fill="#fd4f1e"/><ellipse cx="-32.4" cy="0" rx="12" ry="11" fill="#fd1f22"/><ellipse cx="0.0" cy="0" rx="12" ry="11" fill="#fd1f22"/><ellipse cx="32.4" cy="0" rx="12" ry="11" fill="#fd1f22"/></g><g transform="matrix(0.8480,-0.5299,0.7880,0.6157,853.0,2454.0)"><rect x="-49.6" y="-29.0" width="99.3" height="58.0" rx="17.4" fill="#2c72f2"/><rect x="-46.2" y="-25.5" width="92.3" height="51.0" rx="15.3" fill="#6ef7b6"/><rect x="-41.8" y="-21.2" width="83.6" height="42.3" rx="12.7" fill="#86f47a"/><rect x="-38.0" y="-17.4" width="76.1" height="34.8" rx="10.4" fill="#76ea00"/><rect x="-34.0" y="-13.3" width="68.0" height="26.7" rx="8.0" fill="#b0f010"/><rect x="-32.8" y="-12.2" width="65.7" height="24.4" rx="7.3" fill="#f6e02c"/><rect x="-26.2" y="-7.5" width="52.4" height="15.1" rx="4.5" fill="#fd4f1e"/><ellipse cx="-30.8" cy="0" rx="12" ry="11" fill="#fd1f22"/><ellipse cx="0.0" cy="0" rx="12" ry="11" fill="#fd1f22"/><ellipse cx="30.8" cy="0" rx="12" ry="11" fill="#fd1f22"/></g><g transform="matrix(0.8480,-0.5299,0.7880,0.6157,984.0,2371.0)"><rect x="-91.3" y="-29.0" width="182.7" height="58.0" rx="17.4" fill="#2c72f2"/><rect x="-87.9" y="-25.5" width="175.7" height="51.0" rx="15.3" fill="#6ef7b6"/><rect x="-83.5" y="-21.2" width="167.0" height="42.3" rx="12.7" fill="#86f47a"/><rect x="-79.7" y="-17.4" width="159.5" height="34.8" rx="10.4" fill="#76ea00"/><rect x="-75.7" y="-13.3" width="151.3" height="26.7" rx="8.0" fill="#b0f010"/><rect x="-74.5" y="-12.2" width="149.0" height="24.4" rx="7.3" fill="#f6e02c"/><rect x="-69.6" y="-9.3" width="139.2" height="18.6" rx="5.6" fill="#fd4f1e"/><rect x="-55.7" y="-5.2" width="111.4" height="10.4" rx="3.1" fill="#fd1f22"/></g><g transform="matrix(0.8480,-0.5299,0.7880,0.6157,1161.0,2328.0)"><rect x="-41.6" y="-29.0" width="83.2" height="58.0" rx="17.4" fill="#2c72f2"/><rect x="-38.1" y="-25.5" width="76.2" height="51.0" rx="15.3" fill="#6ef7b6"/><rect x="-33.7" y="-21.2" width="67.5" height="42.3" rx="12.7" fill="#86f47a"/><rect x="-30.0" y="-17.4" width="60.0" height="34.8" rx="10.4" fill="#76ea00"/><rect x="-25.9" y="-13.3" width="51.8" height="26.7" rx="8.0" fill="#b0f010"/></g><g transform="matrix(0.8480,-0.5299,0.7880,0.6157,814.0,2556.0)"><rect x="-51.0" y="-29.0" width="102.0" height="58.0" rx="17.4" fill="#2c72f2"/><rect x="-47.5" y="-25.5" width="95.0" height="51.0" rx="15.3" fill="#6ef7b6"/><rect x="-43.2" y="-21.2" width="86.3" height="42.3" rx="12.7" fill="#86f47a"/><rect x="-39.4" y="-17.4" width="78.8" height="34.8" rx="10.4" fill="#76ea00"/><rect x="-35.3" y="-13.3" width="70.7" height="26.7" rx="8.0" fill="#b0f010"/><rect x="-34.2" y="-12.2" width="68.3" height="24.4" rx="7.3" fill="#f6e02c"/></g><g transform="matrix(0.8480,-0.5299,0.7880,0.6157,910.0,2492.0)"><rect x="-51.0" y="-29.0" width="102.0" height="58.0" rx="17.4" fill="#2c72f2"/><rect x="-47.5" y="-25.5" width="95.0" height="51.0" rx="15.3" fill="#6ef7b6"/><rect x="-43.2" y="-21.2" width="86.3" height="42.3" rx="12.7" fill="#86f47a"/><rect x="-39.4" y="-17.4" width="78.8" height="34.8" rx="10.4" fill="#76ea00"/><rect x="-35.3" y="-13.3" width="70.7" height="26.7" rx="8.0" fill="#b0f010"/><rect x="-34.2" y="-12.2" width="68.3" height="24.4" rx="7.3" fill="#f6e02c"/></g><g transform="matrix(0.8480,-0.5299,0.7880,0.6157,1040.0,2406.0)"><rect x="-91.3" y="-29.0" width="182.7" height="58.0" rx="17.4" fill="#2c72f2"/><rect x="-87.9" y="-25.5" width="175.7" height="51.0" rx="15.3" fill="#6ef7b6"/><rect x="-83.5" y="-21.2" width="167.0" height="42.3" rx="12.7" fill="#86f47a"/><rect x="-79.7" y="-17.4" width="159.5" height="34.8" rx="10.4" fill="#76ea00"/><rect x="-75.7" y="-13.3" width="151.3" height="26.7" rx="8.0" fill="#b0f010"/></g><g transform="matrix(0.8480,-0.5299,0.7880,0.6157,1222.0,2368.0)"><rect x="-42.9" y="-29.0" width="85.8" height="58.0" rx="17.4" fill="#2c72f2"/><rect x="-39.4" y="-25.5" width="78.9" height="51.0" rx="15.3" fill="#6ef7b6"/><rect x="-35.1" y="-21.2" width="70.2" height="42.3" rx="12.7" fill="#86f47a"/><rect x="-31.3" y="-17.4" width="62.6" height="34.8" rx="10.4" fill="#76ea00"/><rect x="-27.3" y="-13.3" width="54.5" height="26.7" rx="8.0" fill="#b0f010"/><rect x="-26.1" y="-12.2" width="52.2" height="24.4" rx="7.3" fill="#f6e02c"/><rect x="-21.2" y="-9.3" width="42.4" height="18.6" rx="5.6" fill="#fd4f1e"/><rect x="-17.0" y="-5.2" width="33.9" height="10.4" rx="3.1" fill="#fd1f22"/></g><g transform="matrix(0.8480,-0.5299,0.7880,0.6157,871.0,2596.0)"><rect x="-49.6" y="-29.0" width="99.3" height="58.0" rx="17.4" fill="#2c72f2"/><rect x="-46.2" y="-25.5" width="92.3" height="51.0" rx="15.3" fill="#6ef7b6"/><rect x="-41.8" y="-21.2" width="83.6" height="42.3" rx="12.7" fill="#86f47a"/><rect x="-38.0" y="-17.4" width="76.1" height="34.8" rx="10.4" fill="#76ea00"/><rect x="-34.0" y="-13.3" width="68.0" height="26.7" rx="8.0" fill="#b0f010"/><rect x="-32.8" y="-12.2" width="65.7" height="24.4" rx="7.3" fill="#f6e02c"/><rect x="-26.2" y="-7.5" width="52.4" height="15.1" rx="4.5" fill="#fd4f1e"/><ellipse cx="-30.8" cy="0" rx="12" ry="11" fill="#fd1f22"/><ellipse cx="0.0" cy="0" rx="12" ry="11" fill="#fd1f22"/><ellipse cx="30.8" cy="0" rx="12" ry="11" fill="#fd1f22"/></g><g transform="matrix(0.8480,-0.5299,0.7880,0.6157,969.0,2528.0)"><rect x="-49.6" y="-29.0" width="99.3" height="58.0" rx="17.4" fill="#2c72f2"/><rect x="-46.2" y="-25.5" width="92.3" height="51.0" rx="15.3" fill="#6ef7b6"/><rect x="-41.8" y="-21.2" width="83.6" height="42.3" rx="12.7" fill="#86f47a"/><rect x="-38.0" y="-17.4" width="76.1" height="34.8" rx="10.4" fill="#76ea00"/><rect x="-34.0" y="-13.3" width="68.0" height="26.7" rx="8.0" fill="#b0f010"/><rect x="-32.8" y="-12.2" width="65.7" height="24.4" rx="7.3" fill="#f6e02c"/><rect x="-26.2" y="-7.5" width="52.4" height="15.1" rx="4.5" fill="#fd4f1e"/><ellipse cx="-30.8" cy="0" rx="12" ry="11" fill="#fd1f22"/><ellipse cx="0.0" cy="0" rx="12" ry="11" fill="#fd1f22"/><ellipse cx="30.8" cy="0" rx="12" ry="11" fill="#fd1f22"/></g><g transform="matrix(0.8480,-0.5299,0.7880,0.6157,1096.0,2450.0)"><rect x="-91.3" y="-29.0" width="182.7" height="58.0" rx="17.4" fill="#2c72f2"/><rect x="-87.9" y="-25.5" width="175.7" height="51.0" rx="15.3" fill="#6ef7b6"/><rect x="-83.5" y="-21.2" width="167.0" height="42.3" rx="12.7" fill="#86f47a"/><rect x="-79.7" y="-17.4" width="159.5" height="34.8" rx="10.4" fill="#76ea00"/><rect x="-75.7" y="-13.3" width="151.3" height="26.7" rx="8.0" fill="#b0f010"/><rect x="-74.5" y="-12.2" width="149.0" height="24.4" rx="7.3" fill="#f6e02c"/><rect x="-69.6" y="-9.3" width="139.2" height="18.6" rx="5.6" fill="#fd4f1e"/><rect x="-55.7" y="-5.2" width="111.4" height="10.4" rx="3.1" fill="#fd1f22"/></g><g transform="matrix(0.8480,-0.5299,0.7880,0.6157,927.0,2632.0)"><rect x="-49.6" y="-29.0" width="99.3" height="58.0" rx="17.4" fill="#2c72f2"/><rect x="-46.2" y="-25.5" width="92.3" height="51.0" rx="15.3" fill="#6ef7b6"/><rect x="-41.8" y="-21.2" width="83.6" height="42.3" rx="12.7" fill="#86f47a"/><rect x="-38.0" y="-17.4" width="76.1" height="34.8" rx="10.4" fill="#76ea00"/><rect x="-34.0" y="-13.3" width="68.0" height="26.7" rx="8.0" fill="#b0f010"/><rect x="-32.8" y="-12.2" width="65.7" height="24.4" rx="7.3" fill="#f6e02c"/><rect x="-26.2" y="-7.5" width="52.4" height="15.1" rx="4.5" fill="#fd4f1e"/><ellipse cx="-30.8" cy="0" rx="12" ry="11" fill="#fd1f22"/><ellipse cx="0.0" cy="0" rx="12" ry="11" fill="#fd1f22"/><ellipse cx="30.8" cy="0" rx="12" ry="11" fill="#fd1f22"/></g><g transform="matrix(0.8480,-0.5299,0.7880,0.6157,1027.0,2572.0)"><rect x="-49.6" y="-29.0" width="99.3" height="58.0" rx="17.4" fill="#2c72f2"/><rect x="-46.2" y="-25.5" width="92.3" height="51.0" rx="15.3" fill="#6ef7b6"/><rect x="-41.8" y="-21.2" width="83.6" height="42.3" rx="12.7" fill="#86f47a"/><rect x="-38.0" y="-17.4" width="76.1" height="34.8" rx="10.4" fill="#76ea00"/><rect x="-34.0" y="-13.3" width="68.0" height="26.7" rx="8.0" fill="#b0f010"/><rect x="-32.8" y="-12.2" width="65.7" height="24.4" rx="7.3" fill="#f6e02c"/><rect x="-26.2" y="-7.5" width="52.4" height="15.1" rx="4.5" fill="#fd4f1e"/><ellipse cx="-30.8" cy="0" rx="12" ry="11" fill="#fd1f22"/><ellipse cx="0.0" cy="0" rx="12" ry="11" fill="#fd1f22"/><ellipse cx="30.8" cy="0" rx="12" ry="11" fill="#fd1f22"/></g><g transform="matrix(0.8480,-0.5299,0.7880,0.6157,1157.0,2490.0)"><rect x="-92.7" y="-29.0" width="185.4" height="58.0" rx="17.4" fill="#2c72f2"/><rect x="-89.2" y="-25.5" width="178.4" height="51.0" rx="15.3" fill="#6ef7b6"/><rect x="-84.8" y="-21.2" width="169.7" height="42.3" rx="12.7" fill="#86f47a"/><rect x="-81.1" y="-17.4" width="162.2" height="34.8" rx="10.4" fill="#76ea00"/><rect x="-77.0" y="-13.3" width="154.0" height="26.7" rx="8.0" fill="#b0f010"/><rect x="-75.9" y="-12.2" width="151.7" height="24.4" rx="7.3" fill="#f6e02c"/><rect x="-71.0" y="-9.3" width="141.9" height="18.6" rx="5.6" fill="#fd4f1e"/><rect x="-56.8" y="-5.2" width="113.5" height="10.4" rx="3.1" fill="#fd1f22"/></g><g transform="matrix(0.8480,-0.5299,0.7880,0.6157,1176.0,2262.0)"><rect x="-26.0" y="-18.0" width="52.0" height="36.0" rx="10.8" fill="#2c72f2"/><rect x="-22.4" y="-14.4" width="44.8" height="28.8" rx="8.6" fill="#6ef7b6"/><rect x="-18.8" y="-10.8" width="37.6" height="21.6" rx="6.5" fill="#86f47a"/><rect x="-14.8" y="-6.8" width="29.7" height="13.7" rx="4.1" fill="#76ea00"/><rect x="-11.2" y="-3.2" width="22.5" height="6.5" rx="1.9" fill="#b0f010"/></g><g transform="matrix(0.8480,-0.5299,0.7880,0.6157,1031.0,2283.0)"><rect x="-30.0" y="-15.0" width="60.0" height="30.0" rx="9.0" fill="#2c72f2"/><rect x="-27.0" y="-12.0" width="54.0" height="24.0" rx="7.2" fill="#6ef7b6"/><rect x="-24.0" y="-9.0" width="48.0" height="18.0" rx="5.4" fill="#86f47a"/><rect x="-20.7" y="-5.7" width="41.4" height="11.4" rx="3.4" fill="#76ea00"/><rect x="-17.7" y="-2.7" width="35.4" height="5.4" rx="1.6" fill="#b0f010"/></g><g transform="matrix(0.8480,-0.5299,0.7880,0.6157,1290.0,2336.0)"><rect x="-25.0" y="-25.0" width="50.0" height="50.0" rx="15.0" fill="#2c72f2"/><rect x="-20.0" y="-20.0" width="40.0" height="40.0" rx="12.0" fill="#6ef7b6"/><rect x="-15.0" y="-15.0" width="30.0" height="30.0" rx="9.0" fill="#86f47a"/><rect x="-9.5" y="-9.5" width="19.0" height="19.0" rx="5.7" fill="#76ea00"/><rect x="-4.5" y="-4.5" width="9.0" height="9.0" rx="2.7" fill="#b0f010"/></g><g transform="matrix(0.8480,-0.5299,0.7880,0.6157,1257.0,2432.0)"><rect x="-23.0" y="-23.0" width="46.0" height="46.0" rx="13.8" fill="#2c72f2"/><rect x="-18.4" y="-18.4" width="36.8" height="36.8" rx="11.0" fill="#6ef7b6"/><rect x="-13.8" y="-13.8" width="27.6" height="27.6" rx="8.3" fill="#86f47a"/><rect x="-8.7" y="-8.7" width="17.5" height="17.5" rx="5.2" fill="#76ea00"/><rect x="-4.1" y="-4.1" width="8.3" height="8.3" rx="2.5" fill="#b0f010"/></g><g transform="matrix(0.8480,-0.5299,0.7880,0.6157,1324.0,2244.0)"><rect x="-36.0" y="-21.0" width="72.0" height="42.0" rx="12.6" fill="#2c72f2"/><rect x="-31.8" y="-16.8" width="63.6" height="33.6" rx="10.1" fill="#6ef7b6"/><rect x="-27.6" y="-12.6" width="55.2" height="25.2" rx="7.6" fill="#86f47a"/><rect x="-23.0" y="-8.0" width="46.0" height="16.0" rx="4.8" fill="#76ea00"/><rect x="-18.8" y="-3.8" width="37.6" height="7.6" rx="2.3" fill="#b0f010"/></g><ellipse cx="1337.5" cy="2366" rx="4" ry="27" transform="rotate(12 1337.5 2366)" fill="#2c72f2"/><ellipse cx="1303.5" cy="2456" rx="4" ry="34" transform="rotate(12 1303.5 2456)" fill="#2c72f2"/></g>
<g style="font-family:'Liberation Serif',serif" fill="#0a0a0a"><text x="1507.3" y="2225.9" stroke="#0a0a0a" stroke-width="0.7" style="font-size:50px" textLength="366" lengthAdjust="spacingAndGlyphs">Displacement/mm</text><rect x="1549.3" y="2249.3" width="25.4" height="49.8" fill="#fd1f22"/><rect x="1549.3" y="2299.1" width="25.4" height="50.4" fill="#fd4f1e"/><rect x="1549.3" y="2349.5" width="25.4" height="50.1" fill="#f6e02c"/><rect x="1549.3" y="2399.6" width="25.4" height="50.4" fill="#b0f010"/><rect x="1549.3" y="2450.0" width="25.4" height="49.9" fill="#76ea00"/><rect x="1549.3" y="2499.9" width="25.4" height="50.4" fill="#86f47a"/><rect x="1549.3" y="2550.3" width="25.4" height="50.2" fill="#6ef7b6"/><rect x="1549.3" y="2600.5" width="25.4" height="50.4" fill="#2c72f2"/><rect x="1549.3" y="2650.9" width="25.4" height="49.3" fill="#0224c6"/><rect x="1547.4" y="2247.1" width="37.1" height="4" fill="#141414"/><rect x="1547.4" y="2296.9" width="37.1" height="4" fill="#141414"/><rect x="1547.4" y="2347.3" width="37.1" height="4" fill="#141414"/><rect x="1547.4" y="2397.4" width="37.1" height="4" fill="#141414"/><rect x="1547.4" y="2447.8" width="37.1" height="4" fill="#141414"/><rect x="1547.4" y="2497.7" width="37.1" height="4" fill="#141414"/><rect x="1547.4" y="2548.1" width="37.1" height="4" fill="#141414"/><rect x="1547.4" y="2598.3" width="37.1" height="4" fill="#141414"/><rect x="1547.4" y="2648.7" width="37.1" height="4" fill="#141414"/><rect x="1547.4" y="2698.0" width="37.1" height="4" fill="#141414"/><text x="1605.9" y="2264.9" stroke="#0a0a0a" stroke-width="0.7" style="font-size:49px">6.454×10</text><text x="1605.9" y="2313.9" stroke="#0a0a0a" stroke-width="0.7" style="font-size:49px">5.737×10</text><text x="1605.9" y="2362.8" stroke="#0a0a0a" stroke-width="0.7" style="font-size:49px">5.021×10</text><text x="1605.9" y="2411.8" stroke="#0a0a0a" stroke-width="0.7" style="font-size:49px">4.305×10</text><text x="1605.9" y="2460.8" stroke="#0a0a0a" stroke-width="0.7" style="font-size:49px">3.589×10</text><text x="1605.9" y="2509.8" stroke="#0a0a0a" stroke-width="0.7" style="font-size:49px">2.873×10</text><text x="1605.9" y="2558.7" stroke="#0a0a0a" stroke-width="0.7" style="font-size:49px">2.157×10</text><text x="1605.9" y="2607.7" stroke="#0a0a0a" stroke-width="0.7" style="font-size:49px">1.441×10</text><text x="1605.9" y="2656.7" stroke="#0a0a0a" stroke-width="0.7" style="font-size:49px">7.244</text><text x="1605.9" y="2714.3" stroke="#0a0a0a" stroke-width="0.7" style="font-size:49px">8.268×10<tspan dy="-17" style="font-size:27px">−2</tspan></text></g>
<text x="108.0" y="3139.6" style="font-family:'Liberation Serif',serif;font-size:66.5px" fill="#0a0a0a" stroke="#0a0a0a" stroke-width="0.8" textLength="1677" lengthAdjust="spacingAndGlyphs">(e) Global displacement under 2 times pressurization condition</text>
<polygon points="1941.0,2185.9 2301.0,2245.7 2613.3,2295.2 2639.0,2296.7 2912.4,2263.5 3068.6,2242.0 3185.7,2224.4 3263.8,2208.8 3330.2,2204.9 3373.1,2222.5 3388.8,2242.0 3384.9,2269.3 3361.4,2304.5 3322.4,2347.4 3283.3,2386.5 3275.5,2402.1 3224.8,2519.2 3205.7,2560.0 3150.0,2673.6 3216.4,3055.0 3190.7,3057.1 3162.9,2958.6 3047.1,2727.1 2970.0,2726.3 2935.7,2731.4 2850.0,2752.9 2727.9,2797.9 2412.9,2587.9 2406.4,2579.3 2525.7,2487.6 2523.8,2373.3 2434.3,2342.9 2301.0,2302.9 2110.5,2245.7 1933.3,2203.8" fill="#0224c6"/>
<g clip-path="url(#clipF)"><polygon points="2541.0,2484.0 2708.6,2367.6 2775.7,2324.0 2912.4,2263.5 3068.6,2242.0 3185.7,2224.4 3263.8,2208.8 3330.2,2204.9 3373.0,2222.5 3380.0,2245.0 3330.0,2300.0 3290.0,2350.0 3250.0,2420.0 3215.0,2470.0 3029.5,2574.0 2951.4,2620.8 2858.5,2697.0 2728.9,2613.0 2639.0,2550.5" fill="#2c72f2"/><polygon points="3186.0,2300.0 3250.0,2280.0 3300.0,2300.0 3342.0,2340.0 3300.0,2400.0 3260.0,2430.0 3210.0,2433.0 3190.0,2380.0" fill="#0224c6"/><polygon points="3330.0,2240.0 3370.0,2245.0 3384.0,2269.0 3350.0,2300.0" fill="#0224c6"/><polygon points="2970.0,2255.0 3050.0,2245.0 3060.0,2265.0 2990.0,2275.0" fill="#0224c6"/><polygon points="2700.0,2470.0 2740.0,2455.0 2745.0,2475.0 2710.0,2485.0" fill="#0224c6"/><polygon points="2800.0,2440.0 2830.0,2430.0 2835.0,2445.0 2805.0,2455.0" fill="#0224c6"/><polygon points="2820.0,2550.0 2870.0,2540.0 2875.0,2560.0 2830.0,2575.0" fill="#0224c6"/><polygon points="2729.0,2375.0 2790.0,2355.0 2815.0,2380.0 2790.0,2394.0 2745.0,2394.0" fill="#6ef7b6"/><polygon points="2631.0,2420.0 2680.0,2410.0 2698.0,2440.0 2665.0,2461.0 2640.0,2450.0" fill="#6ef7b6"/><polygon points="2971.0,2515.0 3010.0,2503.0 3030.0,2535.0 3000.0,2562.0 2975.0,2555.0" fill="#6ef7b6"/><polygon points="2873.0,2600.0 2920.0,2582.0 2951.0,2610.0 2920.0,2629.0 2885.0,2625.0" fill="#6ef7b6"/><polygon points="3115.0,2430.0 3160.0,2414.0 3221.0,2450.0 3200.0,2484.0 3140.0,2480.0" fill="#6ef7b6"/><polygon points="2880.0,2280.0 2940.0,2270.0 2960.0,2300.0 2900.0,2320.0" fill="#6ef7b6"/><polygon points="3010.0,2290.0 3080.0,2270.0 3110.0,2320.0 3050.0,2345.0 3020.0,2330.0" fill="#6ef7b6"/><polygon points="3090.0,2250.0 3160.0,2240.0 3190.0,2290.0 3240.0,2310.0 3230.0,2350.0 3180.0,2345.0 3130.0,2300.0 3100.0,2280.0" fill="#6ef7b6"/><polygon points="3200.0,2230.0 3280.0,2225.0 3290.0,2260.0 3230.0,2270.0" fill="#6ef7b6"/><polygon points="3080.0,2345.0 3140.0,2335.0 3150.0,2365.0 3100.0,2378.0" fill="#6ef7b6"/><polygon points="3340.0,2210.0 3380.0,2225.0 3388.0,2250.0 3360.0,2240.0" fill="#6ef7b6"/><polygon points="2760.0,2480.0 2790.0,2470.0 2795.0,2485.0 2765.0,2493.0" fill="#6ef7b6"/></g>
<g style="font-family:'Liberation Serif',serif" fill="#0a0a0a"><text x="3461.4" y="2207.0" stroke="#0a0a0a" stroke-width="0.7" style="font-size:50px" textLength="203" lengthAdjust="spacingAndGlyphs">Strains/<tspan style="font-style:italic">με</tspan></text><rect x="3450.3" y="2236.0" width="27.3" height="51.3" fill="#fd1f22"/><rect x="3450.3" y="2287.3" width="27.3" height="51.2" fill="#fd4f1e"/><rect x="3450.3" y="2338.5" width="27.3" height="50.4" fill="#f6e02c"/><rect x="3450.3" y="2388.9" width="27.3" height="51.3" fill="#b0f010"/><rect x="3450.3" y="2440.2" width="27.3" height="51.1" fill="#76ea00"/><rect x="3450.3" y="2491.3" width="27.3" height="51.2" fill="#86f47a"/><rect x="3450.3" y="2542.5" width="27.3" height="51.3" fill="#6ef7b6"/><rect x="3450.3" y="2593.8" width="27.3" height="50.7" fill="#2c72f2"/><rect x="3450.3" y="2644.5" width="27.3" height="51.3" fill="#0224c6"/><rect x="3448.9" y="2233.8" width="38.9" height="4" fill="#141414"/><rect x="3448.9" y="2285.1" width="38.9" height="4" fill="#141414"/><rect x="3448.9" y="2336.3" width="38.9" height="4" fill="#141414"/><rect x="3448.9" y="2386.7" width="38.9" height="4" fill="#141414"/><rect x="3448.9" y="2438.0" width="38.9" height="4" fill="#141414"/><rect x="3448.9" y="2489.1" width="38.9" height="4" fill="#141414"/><rect x="3448.9" y="2540.3" width="38.9" height="4" fill="#141414"/><rect x="3448.9" y="2591.6" width="38.9" height="4" fill="#141414"/><rect x="3448.9" y="2642.3" width="38.9" height="4" fill="#141414"/><rect x="3448.9" y="2693.6" width="38.9" height="4" fill="#141414"/><text x="3508.3" y="2249.7" stroke="#0a0a0a" stroke-width="0.7" style="font-size:49px">6.088×10<tspan dy="-17" style="font-size:27px">−9</tspan></text><text x="3508.3" y="2301.4" stroke="#0a0a0a" stroke-width="0.7" style="font-size:49px">5.407×10<tspan dy="-17" style="font-size:27px">−9</tspan></text><text x="3508.3" y="2353.1" stroke="#0a0a0a" stroke-width="0.7" style="font-size:49px">4.726×10<tspan dy="-17" style="font-size:27px">−9</tspan></text><text x="3508.3" y="2404.8" stroke="#0a0a0a" stroke-width="0.7" style="font-size:49px">4.045×10<tspan dy="-17" style="font-size:27px">−9</tspan></text><text x="3508.3" y="2456.5" stroke="#0a0a0a" stroke-width="0.7" style="font-size:49px">3.364×10<tspan dy="-17" style="font-size:27px">−9</tspan></text><text x="3508.3" y="2508.2" stroke="#0a0a0a" stroke-width="0.7" style="font-size:49px">2.683×10<tspan dy="-17" style="font-size:27px">−9</tspan></text><text x="3508.3" y="2559.9" stroke="#0a0a0a" stroke-width="0.7" style="font-size:49px">2.001×10<tspan dy="-17" style="font-size:27px">−9</tspan></text><text x="3508.3" y="2611.6" stroke="#0a0a0a" stroke-width="0.7" style="font-size:49px">1.320×10<tspan dy="-17" style="font-size:27px">−9</tspan></text><text x="3508.3" y="2663.3" stroke="#0a0a0a" stroke-width="0.7" style="font-size:49px">6.393×10<tspan dy="-17" style="font-size:27px">−10</tspan></text><text x="3508.3" y="2715.0" stroke="#0a0a0a" stroke-width="0.7" style="font-size:49px">−4.178×10<tspan dy="-17" style="font-size:27px">−11</tspan></text></g>
<text x="2041.0" y="3139.6" style="font-family:'Liberation Serif',serif;font-size:66.5px" fill="#0a0a0a" stroke="#0a0a0a" stroke-width="0.8" textLength="1620" lengthAdjust="spacingAndGlyphs">(f) Strain contour plot under 2 times pressurization condition</text>
</svg></body></html>
